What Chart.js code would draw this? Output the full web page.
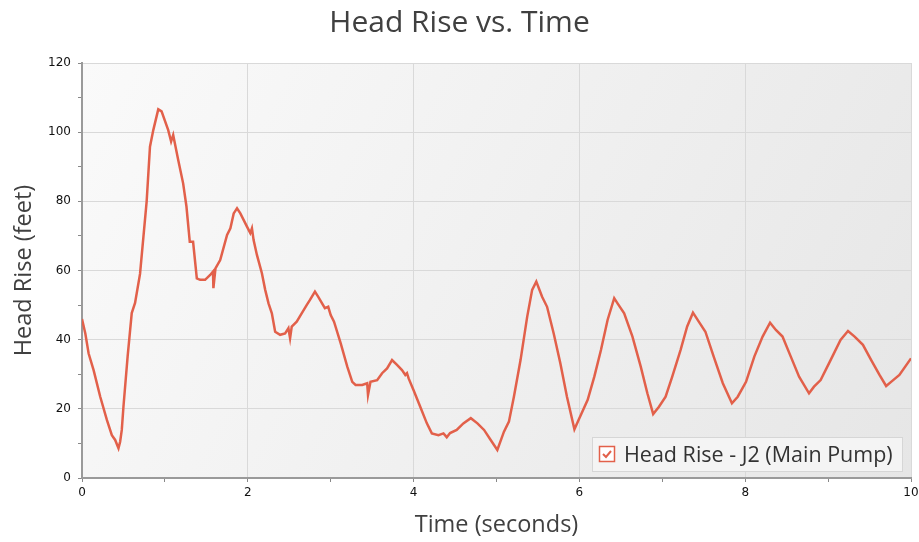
<!DOCTYPE html>
<html>
<head>
<meta charset="utf-8">
<script src="https://cdn.jsdelivr.net/npm/chart.js@4"></script>
<style>
  html, body { margin: 0; padding: 0; background: #fff; }
  #wrap { width: 919px; height: 542px; }
</style>
</head>
<body>
<div id="wrap"><canvas id="chart" width="919" height="542"></canvas></div>
<script>
// time (seconds)
const times = [
  0, 0.04, 0.08, 0.14, 0.22, 0.30, 0.36, 0.40, 0.44, 0.46, 0.48, 0.50, 0.55, 0.60, 0.64, 0.70, 0.78,
  0.82, 0.86, 0.92, 0.96, 1.04, 1.075, 1.10, 1.12, 1.16, 1.22, 1.26, 1.30, 1.34, 1.385, 1.425, 1.485,
  1.546, 1.58, 1.585, 1.61, 1.667, 1.75, 1.79, 1.83, 1.87, 1.91, 1.99, 2.03, 2.05, 2.07, 2.11, 2.17,
  2.21, 2.25, 2.29, 2.33, 2.39, 2.45, 2.49, 2.51, 2.53, 2.59, 2.65, 2.71, 2.75, 2.81, 2.85, 2.93, 2.97,
  3.0, 3.04, 3.12, 3.2, 3.26, 3.30, 3.38, 3.44, 3.45, 3.48, 3.56, 3.62, 3.68, 3.74, 3.80, 3.86, 3.90,
  3.92, 3.94, 4.0, 4.08, 4.16, 4.22, 4.30, 4.36, 4.40, 4.44, 4.52, 4.60, 4.69, 4.77, 4.85, 4.93, 5.01,
  5.09, 5.15, 5.21, 5.29, 5.37, 5.43, 5.48, 5.55, 5.61, 5.69, 5.77, 5.85, 5.94, 5.99, 6.10, 6.18, 6.26,
  6.34, 6.42, 6.46, 6.54, 6.64, 6.74, 6.82, 6.89, 6.96, 7.04, 7.12, 7.22, 7.30, 7.37, 7.44, 7.52, 7.62,
  7.73, 7.84, 7.91, 8.01, 8.11, 8.21, 8.30, 8.37, 8.45, 8.55, 8.65, 8.77, 8.83, 8.91, 9.03, 9.15, 9.24,
  9.32, 9.42, 9.52, 9.62, 9.70, 9.76, 9.86, 10.0
];
// head rise (feet)
const headRise = [
  46, 41.8, 36, 31.2, 23.5, 16.8, 12.4, 11, 8.6, 10.5, 13.9, 20.6, 35, 47.7, 50.6, 59, 80,
  95.8, 100.6, 106.6, 106, 100.6, 97.3, 99.2, 96.8, 92, 85.2, 78.5, 68.3, 68.3, 57.7, 57.3, 57.3,
  58.7, 59.7, 54.9, 60.6, 63, 70.3, 72.2, 76.5, 78, 76.5, 72.7, 70.8, 72.2, 68.8, 64.5, 59.2,
  54.4, 50.5, 47.6, 42.3, 41.4, 41.8, 43.3, 40.4, 43.8, 45.2, 47.6, 50, 51.5, 53.9, 52.4, 49.1, 49.5,
  47.1, 45.2, 39, 32.2, 27.8, 26.9, 26.9, 27.4, 24, 27.8, 28.3, 30.3, 31.7, 34.1, 32.7, 31.2, 29.8,
  30.3, 28.8, 25.4, 20.6, 15.8, 12.9, 12.4, 12.9, 11.8, 13, 13.9, 15.8, 17.3, 15.8, 13.9, 11, 8.1,
  13.4, 16.3, 23.5, 34.1, 46.6, 54.4, 56.8, 52.4, 49.5, 41.8, 33.2, 23.5, 14.1, 16.8, 22.6, 29.3, 37,
  45.7, 52, 50.5, 47.6, 40.9, 32.2, 24.5, 18.5, 20.6, 23.5, 29.3, 37, 43.8, 47.8, 45.2, 42.3, 35.1,
  27.4, 21.6, 23.5, 27.8, 35.1, 40.9, 44.9, 42.8, 40.9, 35.1, 29.3, 24.5, 26.4, 28.3, 34.1, 39.9, 42.5,
  40.9, 38.5, 34.1, 29.8, 26.6, 27.8, 29.8, 34.6
];
const seriesLabel = 'Head Rise - J2 (Main Pump)';
const lineColor = '#e2604a';

// gradient behind the plot area
const plotBackground = {
  id: 'plotBackground',
  beforeDraw(chart) {
    const { ctx, chartArea: a } = chart;
    const g = ctx.createLinearGradient(a.left, a.top, a.right, a.bottom);
    g.addColorStop(0, '#fafafa');
    g.addColorStop(1, '#e6e6e6');
    ctx.save();
    ctx.fillStyle = g;
    ctx.fillRect(a.left, a.top, a.right - a.left, a.bottom - a.top);
    ctx.restore();
  }
};

// legend box sitting in the lower right corner of the plot
const boxLegend = {
  id: 'boxLegend',
  afterDraw(chart) {
    const { ctx, chartArea: a } = chart;
    const w = 311, h = 35;
    const x = a.right - 8 - w, y = a.bottom - 6 - h;
    ctx.save();
    ctx.fillStyle = '#f4f4f4';
    ctx.fillRect(x, y, w, h);
    ctx.strokeStyle = '#d6d6d6';
    ctx.lineWidth = 1;
    ctx.strokeRect(x + 0.5, y + 0.5, w - 1, h - 1);
    // checkbox
    const cx = x + 7, cy = y + 9;
    ctx.fillStyle = '#fff';
    ctx.fillRect(cx, cy, 16, 16);
    ctx.strokeStyle = lineColor;
    ctx.lineWidth = 1.5;
    ctx.strokeRect(cx + 0.5, cy + 0.5, 15, 15);
    ctx.beginPath();
    ctx.moveTo(cx + 4, cy + 8);
    ctx.lineTo(cx + 7, cy + 11);
    ctx.lineTo(cx + 12, cy + 5);
    ctx.lineWidth = 2;
    ctx.stroke();
    // label
    ctx.fillStyle = '#333';
    ctx.font = '21.5px "Open Sans"';
    ctx.textBaseline = 'middle';
    ctx.fillText(seriesLabel, x + 32, y + h / 2 + 1);
    ctx.restore();
  }
};

new Chart(document.getElementById('chart'), {
  type: 'line',
  data: {
    datasets: [{
      label: seriesLabel,
      data: times.map((t, i) => ({ x: t, y: headRise[i] })),
      borderColor: lineColor,
      borderWidth: 2.5,
      pointRadius: 0,
      tension: 0,
      fill: false
    }]
  },
  options: {
    responsive: false,
    animation: false,
    layout: { padding: { left: 0, right: 0, top: 0, bottom: 0 } },
    plugins: {
      legend: { display: false },
      tooltip: { enabled: false },
      title: {
        display: true,
        text: 'Head Rise vs. Time',
        color: '#404040',
        font: { family: 'Open Sans', size: 30, weight: 'normal', lineHeight: 1.2 },
        padding: { top: 5, bottom: 22 }
      }
    },
    scales: {
      x: {
        type: 'linear',
        min: 0,
        max: 10,
        afterFit: s => { s.height = 64; s.paddingRight = 8; },
        ticks: {
          stepSize: 1,
          autoSkip: false,
          maxRotation: 0,
          padding: 4,
          color: '#111',
          font: { family: 'DejaVu Sans', size: 12 },
          callback: v => (v % 2 === 0 ? v : '')
        },
        grid: { color: c => (c.tick.value % 2 === 0 ? '#d9d9d9' : 'rgba(0,0,0,0)'), tickColor: '#888', tickLength: 4 },
        border: { color: '#9a9a9a', width: 2 },
        title: {
          display: true,
          text: 'Time (seconds)',
          color: '#404040',
          font: { family: 'Open Sans', size: 23.5 },
          padding: { top: 0, bottom: 3 }
        }
      },
      y: {
        min: 0,
        max: 120,
        afterFit: s => { s.width = 82; },
        ticks: {
          stepSize: 10,
          autoSkip: false,
          padding: 7,
          color: '#111',
          font: { family: 'DejaVu Sans', size: 12 },
          callback: v => (v % 20 === 0 ? v : '')
        },
        grid: { color: c => (c.tick.value % 20 === 0 ? '#d9d9d9' : 'rgba(0,0,0,0)'), tickColor: '#888', tickLength: 4 },
        border: { color: '#9a9a9a', width: 2 },
        title: {
          display: true,
          text: 'Head Rise (feet)',
          color: '#404040',
          font: { family: 'Open Sans', size: 23.5 },
          padding: { top: 10, bottom: 0 }
        }
      }
    }
  },
  plugins: [plotBackground, boxLegend]
});
</script>
</body>
</html>
